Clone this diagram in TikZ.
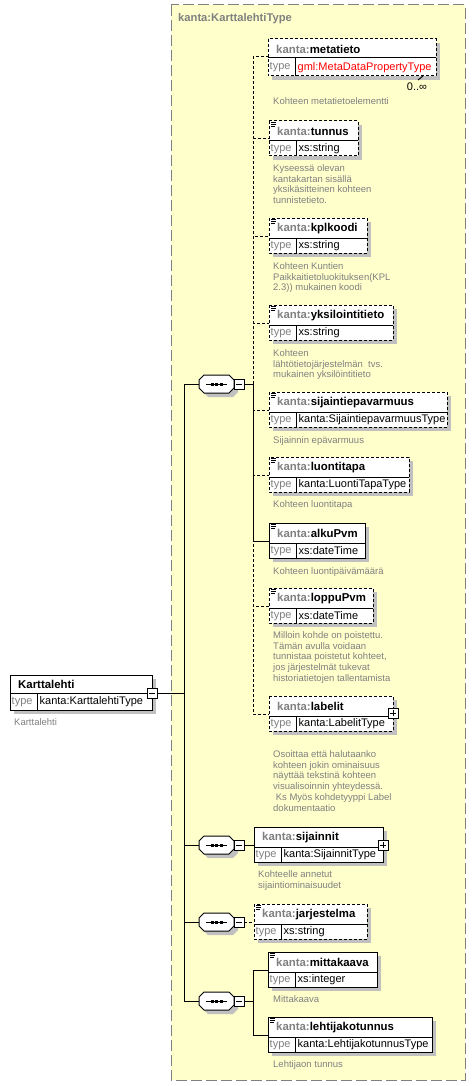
\documentclass[tikz,border=0pt]{standalone}
\usepackage{fontspec}
\setmainfont{Liberation Sans}
\definecolor{kgray}{RGB}{128,128,128}
\definecolor{kyellow}{RGB}{255,255,204}
\definecolor{kshadow}{RGB}{192,192,192}
\tikzset{
  ln/.style={line width=1pt, black},
  opt/.style={line width=1pt, black, dash pattern=on 3pt off 2pt},
  hdr/.style={font=\fontsize{11.4}{13}\selectfont\bfseries, inner sep=0pt, anchor=west},
  typ/.style={font=\fontsize{11}{13}\selectfont, inner sep=0pt, anchor=west},
  desc/.style={font=\fontsize{9.5}{10.7}\selectfont, text=kgray, inner sep=0pt, anchor=north west, align=left},
}
\newcommand\kp{\textcolor{kgray}{kanta:}}
\def\hh{20}\def\th{15}
% #1 border style, #2 id, #3 left, #4 top, #5 width, #6 header, #7 type
\newcommand\elbox[7][ln]{%
  \fill[kshadow] (#3+4,#4+4) rectangle (#3+#5+4,#4+\hh+\th+4);
  \fill[white] (#3,#4) rectangle (#3+#5,#4+\hh+\th);
  \draw[ln] (#3,#4+\hh) -- (#3+#5,#4+\hh);
  \draw[ln] (#3+27,#4+\hh) -- (#3+27,#4+\hh+\th);
  \draw[#1] (#3,#4) rectangle (#3+#5,#4+\hh+\th);
  \coordinate (#2) at (#3,#4+18);
  \node[hdr] (#2-h) at (#3+8,#4+\hh/2+0.5) {#6};
  \node[typ, text=kgray] (#2-tl) at (#3+1.5,#4+\hh+\th/2+0.5) {type};
  \node[typ] (#2-t) at (#3+29.5,#4+\hh+\th/2+0.5) {#7};
}
\newcommand\docicon[2]{%
  \draw[line width=0.8pt] (#1+2,#2+1.5) -- ++(5,0) (#1+2,#2+3.5) -- ++(5,0) (#1+2,#2+5.5) -- ++(4,0);}
\newcommand\plusbox[3]{%
  \draw[ln, fill=white] (#2-5,#3-5) rectangle (#2+5,#3+5);
  \draw[ln] (#2-3,#3) -- (#2+3,#3) (#2,#3-3) -- (#2,#3+3);
  \coordinate (#1) at (#2,#3);}
\newcommand\minusbox[3]{%
  \draw[ln, fill=white] (#2-5,#3-5) rectangle (#2+5,#3+5);
  \draw[ln] (#2-3,#3) -- (#2+3,#3);
  \coordinate (#1) at (#2,#3);}
% sequence compositor: #1 id, #2 left, #3 centre y
\newcommand\seqnode[3]{%
  \fill[kshadow] (#2+9,#3-5) -- (#2+34,#3-5) -- (#2+39,#3) -- (#2+39,#3+8) -- (#2+34,#3+13) -- (#2+9,#3+13) -- (#2+4,#3+8) -- (#2+4,#3) -- cycle;
  \draw[ln, fill=white] (#2+5,#3-9) -- (#2+30,#3-9) -- (#2+35,#3-4) -- (#2+35,#3+4) -- (#2+30,#3+9) -- (#2+5,#3+9) -- (#2,#3+4) -- (#2,#3-4) -- cycle;
  \draw[ln] (#2+7,#3) -- (#2+28,#3);
  \fill (#2+11.5,#3-1.5) rectangle ++(3,3);
  \fill (#2+16,#3-1.5) rectangle ++(3,3);
  \fill (#2+20.5,#3-1.5) rectangle ++(3,3);
  \minusbox{#1-m}{#2+40}{#3}
  \coordinate (#1-in) at (#2,#3);
  \coordinate (#1-out) at (#2+45,#3);}
\begin{document}
\begin{tikzpicture}[x=1pt,y=-1pt]
\useasboundingbox (0,0) rectangle (475,1086);
\fill[white] (0,0) rectangle (475,1086);
% complex type frame
\draw[kgray, line width=1pt, dash pattern=on 11pt off 4pt, fill=kyellow] (171,5) rectangle (465,1080);
\node[hdr, text=kgray, font=\fontsize{11.2}{13}\selectfont\bfseries] (title) at (178,19) {kanta:KarttalehtiType};
% coordinates
\coordinate (kl-out) at (157,693);
\coordinate (trk) at (184,693);
\coordinate (j1) at (253,384);
\coordinate (j4) at (253,1001);
\coordinate (metatieto) at (268,57);
\coordinate (tunnus) at (269,139);
\coordinate (kplkoodi) at (269,236);
\coordinate (yksilointitieto) at (269,323);
\coordinate (sijaintiepavarmuus) at (269,410);
\coordinate (luontitapa) at (269,475);
\coordinate (alkuPvm) at (269,541);
\coordinate (loppuPvm) at (269,606);
\coordinate (labelit) at (269,714);
\coordinate (sijainnit) at (254,845);
\coordinate (jarjestelma) at (254,922);
\coordinate (mittakaava) at (268,970);
\coordinate (lehtijakotunnus) at (268,1035);
\coordinate (s1) at (199,384);
\coordinate (s2) at (199,845);
\coordinate (s3) at (199,922);
\coordinate (s4) at (199,1001);
% connectors
\draw[ln] (kl-out) -- (trk);
\draw[ln] (s1) -- (s1 -| trk) -- (s4 -| trk) -- (s4);
\draw[ln] (s2) -- (s2 -| trk);
\draw[ln] (s3) -- (s3 -| trk);
\draw[ln] (244,384) -- (j1);
\draw[opt] (j1) |- (metatieto);
\draw[opt] (j1) |- (tunnus);
\draw[opt] (j1) |- (kplkoodi);
\draw[opt] (j1) |- (yksilointitieto);
\draw[opt] (j1) |- (sijaintiepavarmuus);
\draw[opt] (j1) |- (luontitapa);
\draw[ln] (j1) |- (alkuPvm);
\draw[opt] (j1) |- (loppuPvm);
\draw[opt] (j1) |- (labelit);
\draw[ln] (244,845) -- (sijainnit);
\draw[opt] (244,922) -- (jarjestelma);
\draw[ln] (244,1001) -- (j4);
\draw[ln] (j4) |- (mittakaava);
\draw[ln] (j4) |- (lehtijakotunnus);
% compositors
\seqnode{q1}{199}{384}
\seqnode{q2}{199}{845}
\seqnode{q3}{199}{922}
\seqnode{q4}{199}{1001}
% root element
\def\hh{18}\def\th{17}
\elbox{karttalehti}{10}{675}{142}{Karttalehti}{kanta:KarttalehtiType}
\minusbox{kl-m}{152}{693}
\node[desc] (karttalehti-d) at (14,718.5) {Karttalehti};
% metatieto
\def\hh{19}\def\th{18}
\elbox[opt]{metatieto-b}{268}{39}{168}{\kp metatieto}{\textcolor{red}{gml:MetaDataPropertyType}}
\draw[ln] (418,80) -- (423,76);
\node[typ, anchor=center] (occ) at (417,87) {0..∞};
\node[desc] (metatieto-d) at (273,97.5) {Kohteen metatietoelementti};
\def\hh{20}\def\th{15}
% tunnus
\elbox[opt]{tunnus-b}{269}{121}{89}{\kp tunnus}{xs:string}
\docicon{269}{121}
\node[desc] (tunnus-d) at (273,164.5) {Kyseessä olevan\\kantakartan sisällä\\yksikäsitteinen kohteen\\tunnistetieto.};
% kplkoodi
\elbox[opt]{kplkoodi-b}{269}{218}{98}{\kp kplkoodi}{xs:string}
\docicon{269}{218}
\node[desc] (kplkoodi-d) at (273,262.5) {Kohteen Kuntien\\Paikkaitietoluokituksen(KPL\\2.3)) mukainen koodi};
% yksilointitieto
\elbox[opt]{yksilointitieto-b}{269}{305}{124}{\kp yksilointitieto}{xs:string}
\docicon{269}{305}
\node[desc] (yksilointitieto-d) at (273,349.5) {Kohteen\\lähtötietojärjestelmän\ \ tvs.\\mukainen yksilöintitieto};
% sijaintiepavarmuus
\elbox[opt]{sijaintiepavarmuus-b}{269}{392}{178}{\kp sijaintiepavarmuus}{kanta:SijaintiepavarmuusType}
\docicon{269}{392}
\node[desc] (sijaintiepavarmuus-d) at (273,436.5) {Sijainnin epävarmuus};
% luontitapa
\elbox[opt]{luontitapa-b}{269}{457}{140}{\kp luontitapa}{kanta:LuontiTapaType}
\docicon{269}{457}
\node[desc] (luontitapa-d) at (273,500.5) {Kohteen luontitapa};
% alkuPvm
\elbox{alkuPvm-b}{269}{523}{96}{\kp alkuPvm}{xs:dateTime}
\docicon{269}{523}
\node[desc] (alkuPvm-d) at (273,567.5) {Kohteen luontipäivämäärä};
% loppuPvm
\elbox[opt]{loppuPvm-b}{269}{588}{104}{\kp loppuPvm}{xs:dateTime}
\docicon{269}{588}
\node[desc] (loppuPvm-d) at (273,631.5) {Milloin kohde on poistettu.\\Tämän avulla voidaan\\tunnistaa poistetut kohteet,\\jos järjestelmät tukevat\\historiatietojen tallentamista};
% labelit
\elbox[opt]{labelit-b}{269}{696}{124}{\kp labelit}{kanta:LabelitType}
\plusbox{labelit-p}{393}{713}
\node[desc] (labelit-d) at (273,750.5) {Osoittaa että halutaanko\\kohteen jokin ominaisuus\\näyttää tekstinä kohteen\\visualisoinnin yhteydessä.\\\ Ks Myös kohdetyyppi Label\\dokumentaatio};
% sijainnit
\elbox{sijainnit-b}{254}{827}{129}{\kp sijainnit}{kanta:SijainnitType}
\plusbox{sijainnit-p}{383}{845}
\node[desc] (sijainnit-d) at (258,870.5) {Kohteelle annetut\\sijaintiominaisuudet};
% jarjestelma
\elbox[opt]{jarjestelma-b}{254}{904}{113}{\kp jarjestelma}{xs:string}
\docicon{254}{904}
% mittakaava
\elbox{mittakaava-b}{268}{952}{109}{\kp mittakaava}{xs:integer}
\docicon{268}{952}
\node[desc] (mittakaava-d) at (273,995.5) {Mittakaava};
% lehtijakotunnus
\elbox{lehtijakotunnus-b}{268}{1017}{164}{\kp lehtijakotunnus}{kanta:LehtijakotunnusType}
\docicon{268}{1017}
\node[desc] (lehtijakotunnus-d) at (273,1060.5) {Lehtijaon tunnus};
\end{tikzpicture}
\end{document}
